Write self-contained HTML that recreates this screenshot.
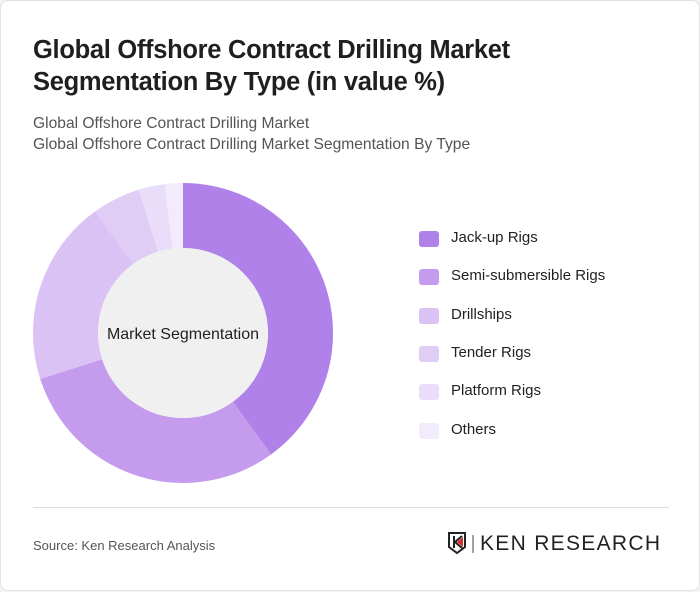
<!DOCTYPE html>
<html><head><style>
body{margin:0;background:#f3f3f3;font-family:"Liberation Sans",sans-serif;}
.card{position:absolute;left:0;top:0;width:698px;height:589px;background:#fff;border:1px solid #e2e2e2;border-radius:8px;}
.t{position:absolute;left:32px;top:33px;font-size:25.5px;font-weight:bold;color:#1f1f1f;line-height:32px;letter-spacing:-0.3px}
.s{position:absolute;left:32px;top:112px;font-size:15.6px;color:#555;line-height:21px}
.lg{position:absolute;left:418px;font-size:15px;color:#222}
.lg span{position:absolute;left:0;top:2px;width:20px;height:16px;border-radius:3px}
.lg b{font-weight:normal;position:absolute;left:32px;top:0;white-space:nowrap}
.div{position:absolute;left:32px;top:506px;width:636px;height:1px;background:#ddd}
.src{position:absolute;left:32px;top:537px;font-size:13px;color:#555}
.logo{position:absolute;left:479px;top:531px;font-size:21px;color:#222;letter-spacing:1.3px}
</style></head><body>
<div class="card">
<div class="t">Global Offshore Contract Drilling Market<br>Segmentation By Type (in value %)</div>
<div class="s">Global Offshore Contract Drilling Market<br>Global Offshore Contract Drilling Market Segmentation By Type</div>
<svg style="position:absolute;left:0;top:0" width="700" height="591">
<g transform="rotate(-90 182 332)" fill="none" stroke-width="65">
<circle cx="182" cy="332" r="117.5" stroke="#b181ea" stroke-dasharray="295.3 738.3" stroke-dashoffset="0"/>
<circle cx="182" cy="332" r="117.5" stroke="#c59bee" stroke-dasharray="221.5 738.3" stroke-dashoffset="-295.3"/>
<circle cx="182" cy="332" r="117.5" stroke="#dac2f5" stroke-dasharray="147.7 738.3" stroke-dashoffset="-516.8"/>
<circle cx="182" cy="332" r="117.5" stroke="#e0cdf6" stroke-dasharray="38.4 738.3" stroke-dashoffset="-664.5"/>
<circle cx="182" cy="332" r="117.5" stroke="#e9ddf9" stroke-dasharray="20.7 738.3" stroke-dashoffset="-702.9"/>
<circle cx="182" cy="332" r="117.5" stroke="#f2ebfb" stroke-dasharray="14.8 738.3" stroke-dashoffset="-723.6"/>
</g>
<circle cx="182" cy="332" r="85" fill="#f0f0f0"/>
<text x="182" y="338" text-anchor="middle" font-family="Liberation Sans" font-size="16" fill="#222">Market Segmentation</text>
<g transform="translate(448,532)">
<path d="M0 0h16v14l-8 6l-8-6z" fill="none" stroke="#222" stroke-width="2"/>
<path d="M5 3v12M6 9l7-6M6 9l7 6" stroke="#222" stroke-width="2" fill="none"/>
<path d="M8 9l6-5v10z" fill="#d32f2f"/>
<line x1="24" y1="2" x2="24" y2="20" stroke="#444"/>
</g>
</svg>
<div class="lg" style="top:228px"><span style="background:#b181ea"></span><b>Jack-up Rigs</b></div>
<div class="lg" style="top:266px"><span style="background:#c59bee"></span><b>Semi-submersible Rigs</b></div>
<div class="lg" style="top:305px"><span style="background:#dac2f5"></span><b>Drillships</b></div>
<div class="lg" style="top:343px"><span style="background:#e0cdf6"></span><b>Tender Rigs</b></div>
<div class="lg" style="top:381px"><span style="background:#e9ddf9"></span><b>Platform Rigs</b></div>
<div class="lg" style="top:420px"><span style="background:#f2ebfb"></span><b>Others</b></div>
<div class="div"></div>
<div class="src">Source: Ken Research Analysis</div>
<div class="logo">KEN RESEARCH</div>
</div>
</body></html>
